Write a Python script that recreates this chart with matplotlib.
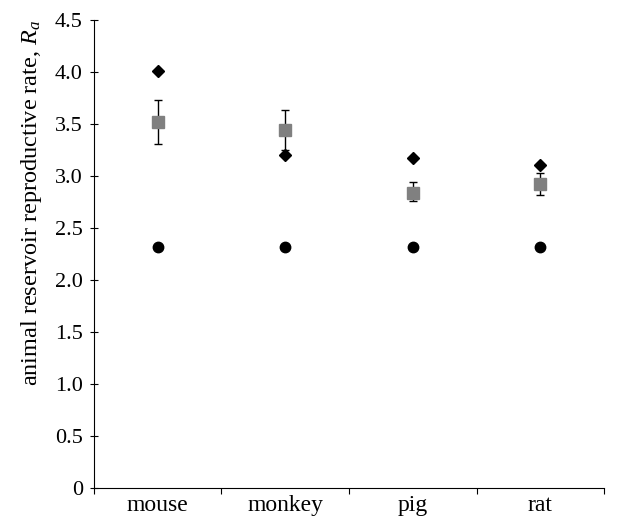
import numpy as np
import matplotlib
matplotlib.use("Agg")
import matplotlib.pyplot as plt

plt.rcParams['font.family'] = ['Liberation Serif', 'DejaVu Serif']
plt.rcParams['mathtext.fontset'] = 'custom'
plt.rcParams['mathtext.rm'] = 'Liberation Serif'
plt.rcParams['mathtext.it'] = 'Liberation Serif:italic'

categories = ['mouse', 'monkey', 'pig', 'rat']
diamond_vals = [4.01, 3.20, 3.17, 3.11]
square_vals = [3.52, 3.44, 2.84, 2.92]
square_err_hi = [3.73, 3.64, 2.94, 3.03]
square_err_lo = [3.31, 3.25, 2.76, 2.82]
circle_vals = [2.32, 2.32, 2.32, 2.32]

x = np.arange(len(categories)) + 0.5
sq = np.array(square_vals)
yerr = [sq - np.array(square_err_lo), np.array(square_err_hi) - sq]

fig = plt.figure(figsize=(6.3, 5.17), dpi=100)
ax = fig.add_axes([0.149, 0.056, 0.810, 0.905])

ax.errorbar(x, sq, yerr=yerr, fmt='none', ecolor='black', elinewidth=1,
            capsize=3, capthick=1, zorder=2)
ax.plot(x, sq, 's', color='#808080', markersize=9, zorder=3)
ax.plot(x, diamond_vals, 'D', color='black', markersize=6.5, zorder=4)
ax.plot(x, circle_vals, 'o', color='black', markersize=7.5, zorder=4)

ax.set_xlim(0, 4)
ax.set_ylim(0, 4.5)
ax.set_yticks(np.arange(0, 4.51, 0.5))
ax.set_yticklabels(['0'] + [f'{v:.1f}' for v in np.arange(0.5, 4.51, 0.5)])
ax.set_xticks(np.arange(0, 5))
ax.set_xticklabels([])
ax.set_xticks(x, minor=True)
ax.set_xticklabels(categories, minor=True)
ax.tick_params(axis='x', which='minor', length=0, labelsize=17, pad=5)
ax.tick_params(axis='x', which='major', direction='out', length=4)
ax.tick_params(axis='y', direction='inout', length=6, labelsize=16, pad=5)

for s in ['top', 'right']:
    ax.spines[s].set_visible(False)

ax.set_ylabel('animal reservoir reproductive rate, $R_a$', fontsize=17.5)
ax.yaxis.set_label_coords(-0.097, 0.61)

fig.savefig('out.png', dpi=100)
